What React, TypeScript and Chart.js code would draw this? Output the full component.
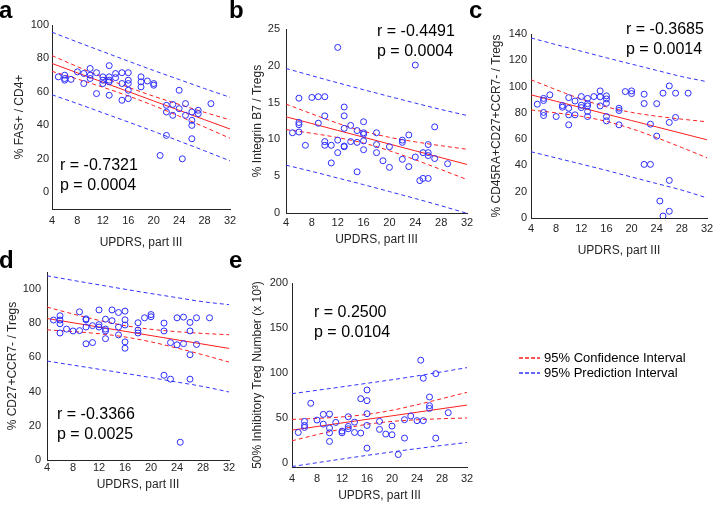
import React, { useEffect, useRef } from "react";
import { Chart, registerables } from "chart.js";
Chart.register(...registerables);

const FONT = "'Liberation Sans', Arial, Helvetica, sans-serif";
const X_TITLE = "UPDRS, part III";
const xTicks = [4, 8, 12, 16, 20, 24, 28, 32];
const bandX = [4, 8, 12, 16, 20, 24, 28, 32];

// ---- Panel a ----
const aX = [5, 6, 6, 6, 7, 8, 9, 9, 10, 10, 10, 11, 11, 12, 12, 12, 13, 13, 13, 13, 13, 14, 14, 15, 15, 15, 16, 16, 16, 16, 16, 18, 18, 18, 19, 20, 20, 21, 22, 22, 22, 23, 23, 24, 24, 24.5, 25, 25, 26, 26, 26, 26, 27, 27, 29];
const aY = [69, 70, 68, 67, 67.5, 72, 71, 65, 74, 70, 68, 71.5, 59, 69, 67, 65, 75.7, 69, 67, 66, 58, 71, 68.5, 71.5, 65, 55, 71.5, 67, 65, 61, 56, 69, 66, 63, 66.5, 65, 64, 22, 52, 48, 34, 52.5, 46, 61, 50, 20, 53, 46, 48, 43, 40, 32, 49, 47, 53];
const aFit = [77, 71.4, 65.8, 60.2, 54.6, 49, 43.4, 37.8];
const aCiUp = [81.7, 75.1, 68.8, 62.8, 57.4, 52.5, 47.8, 43.3];
const aCiLo = [72.3, 67.7, 62.8, 57.6, 51.8, 45.5, 39.0, 32.3];
const aPiUp = [95.7, 89.8, 84.1, 78.4, 72.8, 67.4, 62.0, 56.8];
const aPiLo = [58.3, 53.0, 47.5, 42.0, 36.4, 30.6, 24.8, 18.8];
const aYTicks = [0, 20, 40, 60, 80, 100];

// ---- Panel b ----
const bX = [5, 6, 6, 6, 6, 7, 8, 9, 9, 10, 10, 10, 10, 11, 11, 12, 12, 12, 13, 13, 13, 13, 13, 14, 14, 15, 15, 15, 16, 16, 16, 16, 16, 18, 18, 18, 19, 20, 20, 22, 22, 22, 23, 23, 24, 24, 24.7, 25.2, 25.2, 26, 26, 26, 26, 27, 27, 29];
const bY = [10.9, 15.6, 12.3, 12.0, 11.0, 9.2, 15.7, 15.8, 12.2, 15.8, 13.2, 9.7, 9.2, 9.2, 6.8, 22.5, 9.9, 8.2, 14.4, 13.2, 11.5, 9.1, 9.0, 11.9, 9.7, 11.2, 9.6, 5.6, 12.4, 10.9, 10.7, 9.8, 8.6, 10.9, 9.3, 8.2, 7.1, 9.0, 6.2, 9.9, 9.6, 7.3, 10.6, 6.3, 20.1, 7.6, 4.4, 4.7, 8.2, 9.3, 8.2, 7.8, 4.7, 11.7, 7.4, 6.7];
const bFit = [13.07, 12.15, 11.22, 10.3, 9.37, 8.45, 7.52, 6.6];
const bCiUp = [14.8, 13.47, 12.19, 11.1, 10.28, 9.67, 9.14, 8.66];
const bCiLo = [11.34, 10.83, 10.25, 9.5, 8.46, 7.23, 5.9, 4.54];
const bPiUp = [19.64, 18.65, 17.69, 16.75, 15.83, 14.93, 14.06, 13.25];
const bPiLo = [6.5, 5.65, 4.75, 3.85, 2.91, 1.97, 0.98, -0.05];
const bYTicks = [0, 5, 10, 15, 20, 25];

// ---- Panel c ----
const cX = [5, 6, 6, 6, 6, 7, 8, 9, 9, 10, 10, 10, 10, 11, 11, 12, 12, 12, 13, 13, 13, 13, 13, 14, 15, 15, 15, 16, 16, 16, 16, 16, 18, 18, 18, 19, 20, 20, 22, 22, 22, 23, 23, 24, 24, 24.5, 25, 25, 26, 26, 26, 26, 27, 27, 29];
const cY = [86.6, 91, 89.4, 80.3, 78, 93.7, 77.2, 85.6, 84.3, 91.6, 83.5, 78.5, 70.9, 89, 78.5, 92.4, 85.8, 84, 91, 87, 85.3, 81, 77.2, 92.4, 96.7, 92.2, 85.3, 92.9, 90.6, 87.3, 77.2, 73.9, 83.5, 81.8, 70.9, 96.2, 96.7, 94.7, 94.2, 87.1, 40.8, 71.4, 40.8, 87, 62.3, 12.9, 95, 1.5, 100.5, 72.7, 28.6, 5.1, 95, 76.5, 95];
const cFit = [93.7, 88.81, 83.93, 79.04, 74.16, 69.27, 64.39, 59.5];
const cCiUp = [105.2, 97.6, 90.5, 84.55, 80.35, 77.46, 75.2, 73.2];
const cCiLo = [82.2, 80.0, 77.3, 73.5, 67.97, 61.1, 53.6, 45.8];
const cPiUp = [137.0, 131.9, 126.9, 121.9, 117.1, 112.3, 107.6, 103.7];
const cPiLo = [50.4, 45.7, 41.0, 36.2, 31.2, 26.2, 21.2, 15.3];
const cYTicks = [0, 20, 40, 60, 80, 100, 120, 140];

// ---- Panel d ----
const dX = [5, 6, 6, 6, 6, 7, 8, 9, 9, 10, 10, 10, 10, 11, 11, 12, 12, 12, 13, 13, 13, 13, 14, 14, 15, 15, 15, 16, 16, 16, 16, 16, 18, 18, 18, 19, 20, 20, 22, 22, 22, 23, 23, 24, 24, 24.5, 25, 25, 26, 26, 26, 26, 27, 27, 29];
const dY = [81.9, 84.4, 81.9, 79.7, 74.3, 76.6, 75.5, 86.7, 75.7, 82.6, 82, 77.8, 68, 68.7, 78.6, 87.8, 79.2, 77.8, 82.4, 76.6, 75.5, 71, 87.8, 81.5, 86.3, 77.8, 73.2, 87.1, 82, 79, 69.1, 65.4, 80.3, 76, 74.3, 83.2, 85.1, 83.8, 80.1, 75.5, 49.6, 47.3, 68.7, 83.2, 67.4, 10.4, 83.6, 68.1, 80.5, 75.5, 61.6, 47.3, 83.2, 67.6, 83.2];
const dFit = [82.8, 80.3, 77.8, 75.3, 72.8, 70.3, 67.8, 65.3];
const dCiUp = [89.45, 85.43, 81.7, 78.61, 76.48, 75.09, 74.05, 73.3];
const dCiLo = [76.15, 75.17, 73.9, 71.99, 69.12, 65.51, 61.55, 57.3];
const dPiUp = [107.8, 105.1, 102.5, 99.9, 97.4, 95.0, 92.6, 90.9];
const dPiLo = [57.9, 55.5, 53.1, 50.7, 48.2, 45.6, 43.0, 39.8];
const dYTicks = [0, 20, 40, 60, 80, 100];

// ---- Panel e ----
const eX = [5, 6, 6, 6, 7, 8, 9, 9, 10, 10, 10, 10, 11, 12, 12, 13, 13, 13, 14, 14, 15, 15, 16, 16, 16, 16, 16, 18, 18, 19, 20, 20, 21, 22, 22, 23, 24, 24.6, 25, 25, 26, 26, 26, 27, 27, 29];
const eY = [33.5, 45.8, 41.3, 39.1, 66, 47.3, 53.6, 42.8, 54, 38.4, 33.1, 23.5, 44.7, 35, 33.1, 51, 40.2, 37.6, 33.5, 45, 71.1, 32.8, 80.8, 68.9, 54.4, 41.3, 16, 45.8, 36.9, 31.7, 40.6, 30.9, 8.9, 47.7, 27.2, 51.8, 46.6, 114, 93.9, 46.6, 73, 63.3, 60.3, 99, 27.2, 55.5];
const eFit = [36.1, 40.1, 44.1, 48.1, 52.0, 56.0, 60.0, 64.0];
const eCiUp = [48.0, 49.15, 50.79, 53.62, 58.24, 64.39, 71.17, 78.2];
const eCiLo = [24.2, 31.05, 37.41, 42.58, 45.76, 47.61, 48.83, 49.6];
const ePiUp = [76.7, 80.45, 84.3, 88.25, 92.2, 96.5, 101.0, 105.7];
const ePiLo = [-4.5, -0.25, 3.9, 7.95, 11.8, 15.5, 19.0, 22.3];
const eYTicks = [0, 50, 100, 150, 200];

const AXIS = "#262626";
const PT = "rgb(45,45,255)";
const RED = "rgb(255,30,30)";
const BLUE = "rgb(50,50,255)";

type Panel = {
  key: string;
  box: { left: number; top: number; width: number; height: number };
  padTop: number;
  padRight: number;
  yWidth: number;
  xHeight: number;
  yMin: number;
  yMax: number;
  yTicks: number[];
  xs: number[];
  ys: number[];
  fit: number[];
  ciUp: number[];
  ciLo: number[];
  piUp: number[];
  piLo: number[];
  yTitle: string;
  yTitlePad: number;
  xTitlePad: number;
  xTickPad: number;
  yTickPad: number;
};

const panels: Panel[] = [
  { key: "a", box: { left: 0, top: 0, width: 240, height: 255 }, padTop: 25, padRight: 10, yWidth: 52, xHeight: 46, yMin: -10, yMax: 100, yTicks: aYTicks, xs: aX, ys: aY, fit: aFit, ciUp: aCiUp, ciLo: aCiLo, piUp: aPiUp, piLo: aPiLo, yTitle: "% FAS+ / CD4+", yTitlePad: 12, xTitlePad: 5, xTickPad: 5, yTickPad: 3 },
  { key: "b", box: { left: 240, top: 0, width: 235, height: 255 }, padTop: 29, padRight: 8, yWidth: 46, xHeight: 42, yMin: 0, yMax: 25, yTicks: bYTicks, xs: bX, ys: bY, fit: bFit, ciUp: bCiUp, ciLo: bCiLo, piUp: bPiUp, piLo: bPiLo, yTitle: "% Integrin B7 / Tregs", yTitlePad: 10, xTitlePad: 8, xTickPad: 3, yTickPad: 6 },
  { key: "c", box: { left: 475, top: 0, width: 239, height: 260 }, padTop: 34, padRight: 7, yWidth: 56, xHeight: 42, yMin: 0, yMax: 140, yTicks: cYTicks, xs: cX, ys: cY, fit: cFit, ciUp: cCiUp, ciLo: cCiLo, piUp: cPiUp, piLo: cPiLo, yTitle: "% CD45RA+CD27+CCR7- / Tregs", yTitlePad: 14, xTitlePad: 2, xTickPad: 4, yTickPad: 4 },
  { key: "d", box: { left: 0, top: 255, width: 240, height: 251 }, padTop: 17, padRight: 11, yWidth: 47, xHeight: 46, yMin: 0, yMax: 110, yTicks: dYTicks, xs: dX, ys: dY, fit: dFit, ciUp: dCiUp, ciLo: dCiLo, piUp: dPiUp, piLo: dPiLo, yTitle: "% CD27+CCR7- / Tregs", yTitlePad: 5, xTitlePad: 14, xTickPad: 1, yTickPad: 6 },
  { key: "e", box: { left: 240, top: 255, width: 235, height: 251 }, padTop: 28, padRight: 8, yWidth: 52, xHeight: 39, yMin: -5, yMax: 200, yTicks: eYTicks, xs: eX, ys: eY, fit: eFit, ciUp: eCiUp, ciLo: eCiLo, piUp: ePiUp, piLo: ePiLo, yTitle: "50% Inhibitory Treg Number (x 10³)", yTitlePad: 10, xTitlePad: 3, xTickPad: 5, yTickPad: 4 },
];

const stats: { key: string; r: string; p: string; left: number; top: number }[] = [
  { key: "a", r: "r = -0.7321", p: "p = 0.0004", left: 60, top: 155 },
  { key: "b", r: "r = -0.4491", p: "p = 0.0004", left: 377, top: 21 },
  { key: "c", r: "r = -0.3685", p: "p = 0.0014", left: 626, top: 19 },
  { key: "d", r: "r = -0.3366", p: "p = 0.0025", left: 57, top: 404 },
  { key: "e", r: "r = 0.2500", p: "p = 0.0104", left: 314, top: 302 },
];

const letters = [
  { t: "a", left: -1, top: -2 },
  { t: "b", left: 229, top: -2 },
  { t: "c", left: 469, top: -2 },
  { t: "d", left: -1, top: 248 },
  { t: "e", left: 229, top: 248 },
];

function band(arr: number[]) {
  return bandX.map((x, i) => ({ x, y: arr[i] }));
}

function PanelChart({ p }: { p: Panel }) {
  const ref = useRef<HTMLCanvasElement | null>(null);
  useEffect(() => {
    if (!ref.current) return;
    const lineDs = (arr: number[], color: string, dash: number[]) => ({
      type: "line" as const,
      data: band(arr),
      borderColor: color,
      borderWidth: 1,
      borderDash: dash,
      pointRadius: 0,
      fill: false,
      cubicInterpolationMode: "monotone" as const,
      order: 2,
    });
    const chart = new Chart(ref.current, {
      type: "scatter",
      data: {
        datasets: [
          {
            type: "scatter",
            data: p.xs.map((x, i) => ({ x, y: p.ys[i] })),
            borderColor: PT,
            backgroundColor: "rgba(0,0,0,0)",
            borderWidth: 1,
            pointRadius: 3,
            order: 1,
          } as any,
          lineDs(p.fit, RED, []),
          lineDs(p.ciUp, RED, [4, 3]),
          lineDs(p.ciLo, RED, [4, 3]),
          lineDs(p.piUp, BLUE, [4, 3]),
          lineDs(p.piLo, BLUE, [4, 3]),
        ],
      },
      options: {
        animation: false,
        responsive: false,
        devicePixelRatio: 1,
        events: [],
        layout: { padding: { top: p.padTop, right: p.padRight, left: 0, bottom: 0 } },
        plugins: { legend: { display: false }, tooltip: { enabled: false } },
        scales: {
          x: {
            type: "linear",
            min: 4,
            max: 32,
            afterBuildTicks: (s: any) => {
              s.ticks = xTicks.map((v) => ({ value: v }));
            },
            afterFit: (s: any) => {
              s.height = p.xHeight;
              s.paddingLeft = 0;
              s.paddingRight = 0;
              s.paddingTop = 0;
              s.paddingBottom = 0;
            },
            grid: { display: false, drawTicks: false },
            border: { display: true, color: AXIS, width: 1 },
            ticks: { padding: p.xTickPad, color: AXIS, font: { size: 11, family: FONT }, autoSkip: false, maxRotation: 0 },
            title: { display: true, text: X_TITLE, color: AXIS, font: { size: 12, family: FONT }, padding: { top: 0, bottom: p.xTitlePad } },
          },
          y: {
            type: "linear",
            min: p.yMin,
            max: p.yMax,
            afterBuildTicks: (s: any) => {
              s.ticks = p.yTicks.map((v) => ({ value: v }));
            },
            afterFit: (s: any) => {
              s.width = p.yWidth;
              s.paddingLeft = 0;
              s.paddingRight = 0;
              s.paddingTop = 0;
              s.paddingBottom = 0;
            },
            grid: { display: false, drawTicks: false },
            border: { display: true, color: AXIS, width: 1 },
            ticks: { padding: p.yTickPad, color: AXIS, font: { size: 11, family: FONT }, autoSkip: false },
            title: { display: true, text: p.yTitle, color: AXIS, font: { size: 12, family: FONT }, padding: { top: p.yTitlePad, bottom: 0 } },
          },
        },
      } as any,
    });
    return () => chart.destroy();
  }, [p]);
  return (
    <canvas
      ref={ref}
      width={p.box.width}
      height={p.box.height}
      style={{ position: "absolute", left: p.box.left, top: p.box.top, width: p.box.width, height: p.box.height }}
    />
  );
}

export default function App() {
  return (
    <div style={{ position: "absolute", left: 0, top: 0, width: 714, height: 506, background: "#fff", overflow: "hidden", fontFamily: FONT }}>
      {panels.map((p) => (
        <PanelChart key={p.key} p={p} />
      ))}
      {letters.map((l) => (
        <div key={l.t} style={{ position: "absolute", left: l.left, top: l.top, fontSize: 24, lineHeight: "24px", fontWeight: "bold", color: "#000" }}>
          {l.t}
        </div>
      ))}
      {stats.map((s) => (
        <div key={s.key} style={{ position: "absolute", left: s.left, top: s.top, fontSize: 16, lineHeight: "20px", color: "#000", whiteSpace: "nowrap" }}>
          <div>{s.r}</div>
          <div>{s.p}</div>
        </div>
      ))}
      <div style={{ position: "absolute", left: 519, top: 350, fontSize: 13, lineHeight: "15px", color: "#000", whiteSpace: "nowrap" }}>
        <div style={{ display: "flex", alignItems: "center" }}>
          <svg width="22" height="15" style={{ marginRight: 3 }}>
            <line x1="0" y1="8" x2="21" y2="8" stroke={RED} strokeWidth="1.5" strokeDasharray="4,2" />
          </svg>
          <span>95% Confidence Interval</span>
        </div>
        <div style={{ display: "flex", alignItems: "center" }}>
          <svg width="22" height="15" style={{ marginRight: 3 }}>
            <line x1="0" y1="8" x2="21" y2="8" stroke={BLUE} strokeWidth="1.5" strokeDasharray="4,2" />
          </svg>
          <span>95% Prediction Interval</span>
        </div>
      </div>
    </div>
  );
}
